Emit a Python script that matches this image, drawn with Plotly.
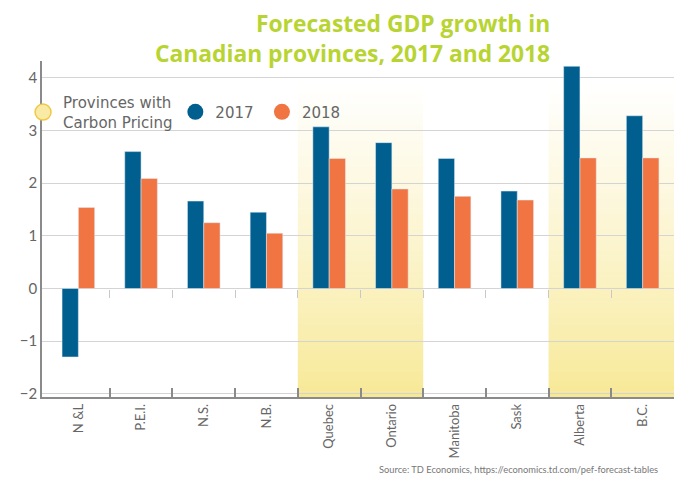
import plotly.graph_objects as go

# data
provinces = ["N &L", "P.E.I.", "N.S.", "N.B.", "Quebec", "Ontario",
             "Manitoba", "Sask", "Alberta", "B.C."]
gdp_2017 = [-1.3, 2.6, 1.66, 1.45, 3.07, 2.77, 2.47, 1.85, 4.22, 3.28]
gdp_2018 = [1.54, 2.09, 1.25, 1.05, 2.47, 1.89, 1.75, 1.68, 2.48, 2.48]
carbon_pricing = ["Quebec", "Ontario", "Alberta", "B.C."]

BLUE = "#015f8f"
ORANGE = "#f07542"
GREEN = "#b8d432"
GREY_TXT = "#666666"
FONT = "Lato"

ymin, ymax = -2.06, 4.32
shade_top = 3.9
idx = list(range(len(provinces)))
xr = [-0.58, len(provinces) - 0.5]

fig = go.Figure()

# legend entries (circles), one legend each so they can be placed freely
fig.add_trace(go.Scatter(x=[None], y=[None], mode="markers", name="Provinces with<br>Carbon Pricing",
                         legend="legend",
                         marker=dict(size=21, color="#f9eba6", line=dict(color="#f0c845", width=1.5))))
fig.add_trace(go.Scatter(x=[None], y=[None], mode="markers", name="2017", legend="legend2",
                         marker=dict(size=21, color=BLUE)))
fig.add_trace(go.Scatter(x=[None], y=[None], mode="markers", name="2018", legend="legend3",
                         marker=dict(size=21, color=ORANGE)))

fig.add_trace(go.Bar(x=idx, y=gdp_2017, marker_color=BLUE, showlegend=False, name="2017"))
fig.add_trace(go.Bar(x=idx, y=gdp_2018, marker_color=ORANGE, showlegend=False, name="2018"))

# dummy traces so the tick-only axes get drawn
fig.add_trace(go.Scatter(x=[None], y=[None], xaxis="x2", showlegend=False, hoverinfo="skip"))
fig.add_trace(go.Scatter(x=[None], y=[None], xaxis="x3", showlegend=False, hoverinfo="skip"))

# carbon pricing shading, vertical gradient made of thin bands
shaded = [i for i, p in enumerate(provinces) if p in carbon_pricing]
groups = []
for i in shaded:
    if groups and groups[-1][1] == i - 1:
        groups[-1][1] = i
    else:
        groups.append([i, i])

bottom_rgb = (247, 232, 148)
top_rgb = (255, 255, 255)
n_bands = 60
shapes = []
for a, b in groups:
    for k in range(n_bands):
        y0 = ymin + (shade_top - ymin) * k / n_bands
        y1 = ymin + (shade_top - ymin) * (k + 1) / n_bands
        t = ((k + 0.5) / n_bands) ** 0.85
        c = [round(bottom_rgb[j] + (top_rgb[j] - bottom_rgb[j]) * t) for j in range(3)]
        shapes.append(dict(type="rect", xref="x", yref="y", x0=a - 0.5, x1=b + 0.5,
                           y0=y0, y1=y1 + 0.01, fillcolor="rgb(%d,%d,%d)" % tuple(c),
                           line=dict(width=0), layer="below"))

zero_pos = (0 - ymin) / (ymax - ymin)
boundaries = [i + 0.5 for i in idx[:-1]]

legend_common = dict(y=0.848, yanchor="middle", xanchor="left", bgcolor="rgba(0,0,0,0)",
                     font=dict(family="DejaVu Sans", size=15, color=GREY_TXT),
                     itemsizing="trace")

fig.update_layout(
    width=692, height=478,
    margin=dict(l=21, r=26, t=53, b=89),
    paper_bgcolor="white", plot_bgcolor="rgba(0,0,0,0)",
    font=dict(family=FONT, color=GREY_TXT),
    barmode="group", bargap=0.48, bargroupgap=0,
    shapes=shapes,
    showlegend=True,
    legend=dict(x=-0.03, **legend_common),
    legend2=dict(x=0.211, **legend_common),
    legend3=dict(x=0.348, **legend_common),
    xaxis=dict(range=xr, tickmode="array", tickvals=idx, ticktext=provinces,
               tickangle=-90, ticks="", showgrid=False, zeroline=False,
               showline=True, linecolor="#8a8a8a", linewidth=1.5,
               tickfont=dict(size=13, color=GREY_TXT)),
    xaxis2=dict(overlaying="x", anchor="y", range=xr, tickmode="array", tickvals=boundaries,
                ticks="inside", ticklen=9, tickwidth=1.5, tickcolor="#8a8a8a",
                showticklabels=False, showgrid=False, zeroline=False, showline=False),
    xaxis3=dict(overlaying="x", anchor="free", position=zero_pos, range=xr, tickmode="array",
                tickvals=boundaries, ticks="outside", ticklen=8, tickwidth=1.2,
                tickcolor="#c8c8c8", showticklabels=False, showgrid=False,
                zeroline=False, showline=False),
    yaxis=dict(range=[ymin, ymax], dtick=1, tick0=0, showgrid=True,
               gridcolor="#d4d4d4", gridwidth=1, zeroline=True, zerolinecolor="#d4d4d4",
               zerolinewidth=1.2, showline=True, linecolor="#8a8a8a", linewidth=1.5,
               ticks="", tickfont=dict(size=15, color=GREY_TXT)),
    annotations=[
        dict(text="Forecasted GDP growth in<br>Canadian provinces, 2017 and 2018",
             xref="paper", yref="paper", x=0.805, y=1.16, xanchor="right", yanchor="top",
             align="right", showarrow=False, borderpad=0,
             font=dict(family="Open Sans", size=22.8, color=GREEN, weight="bold")),
        dict(text="Source: TD Economics, https://economics.td.com/pef-forecast-tables",
             xref="paper", yref="paper", x=0.978, y=-0.217, xanchor="right", yanchor="middle",
             showarrow=False, font=dict(family=FONT, size=9.3, color="#777777")),
    ],
)

fig.write_html("out.html")
